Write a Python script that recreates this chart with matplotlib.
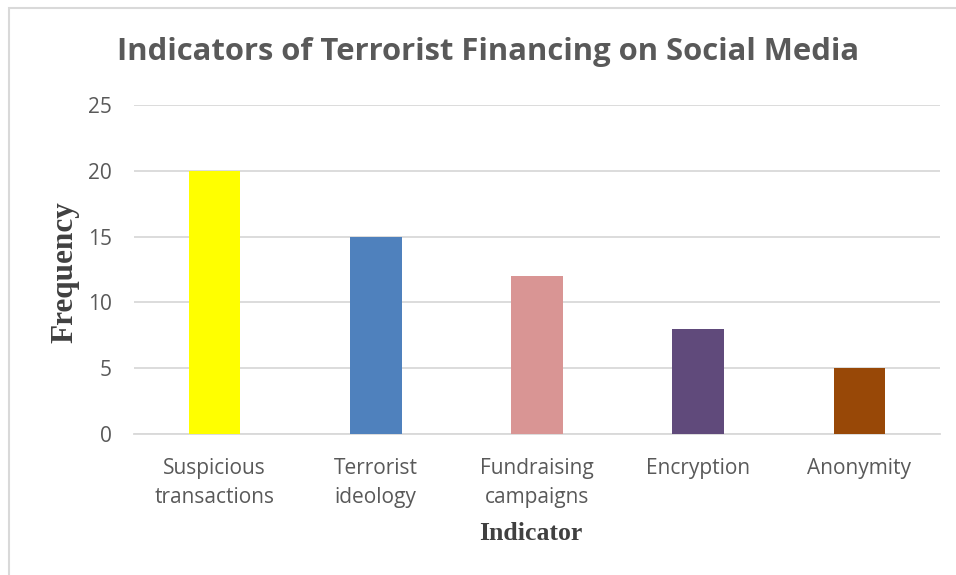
import numpy as np
import matplotlib.pyplot as plt
from matplotlib.patches import Rectangle

categories = ["Suspicious\ntransactions", "Terrorist\nideology", "Fundraising\ncampaigns",
              "Encryption", "Anonymity"]
values = [20, 15, 12, 8, 5]
colors = ["#FFFF00", "#4F81BD", "#D99594", "#604A7B", "#984807"]
yticks = [0, 5, 10, 15, 20, 25]

W, H = 956, 575
fig = plt.figure(figsize=(W / 100, H / 100), dpi=100)

# chart border (cut off at right and bottom)
fig.patches.append(Rectangle((9 / W, -0.1), 1.2, 1 - 8 / H + 0.1, transform=fig.transFigure,
                             fill=False, edgecolor="#D9D9D9", linewidth=1.5))

ax = fig.add_axes([134 / W, 1 - 434 / H, (940 - 134) / W, (434 - 105) / H])
x = np.arange(len(categories))
ax.bar(x, values, width=0.32, color=colors, zorder=3)
ax.set_xlim(-0.5, len(categories) - 0.5)
ax.set_ylim(0, 25)
ax.set_yticks(yticks)
ax.yaxis.grid(True, color="#D9D9D9", linewidth=1.3, zorder=0)
for s in ["top", "right", "left"]:
    ax.spines[s].set_visible(False)
ax.spines["bottom"].set_color("#D9D9D9")
ax.spines["bottom"].set_linewidth(1.3)
ax.tick_params(axis="both", length=0, colors="#595959", labelsize=15)
ax.tick_params(axis="y", pad=16)
ax.tick_params(axis="x", pad=17)
ax.set_xticks(x)
ax.set_xticklabels(categories, fontfamily="Open Sans", linespacing=1.5)
for t in ax.get_yticklabels():
    t.set_fontfamily("Open Sans")

fig.text(488 / W, 1 - 52 / H, "Indicators of Terrorist Financing on Social Media",
         ha="center", va="center", fontsize=22.3, fontweight="bold",
         fontfamily="Open Sans", color="#595959")
fig.text(65 / W, 1 - 272 / H, "Frequency", rotation=90, ha="center", va="center",
         fontsize=22.5, fontweight="bold", fontfamily="Liberation Serif", color="#404040")
fig.text(531 / W, 1 - 533 / H, "Indicator", ha="center", va="center",
         fontsize=18.5, fontweight="bold", fontfamily="Liberation Serif", color="#404040")

fig.savefig("out.png", dpi=100)
